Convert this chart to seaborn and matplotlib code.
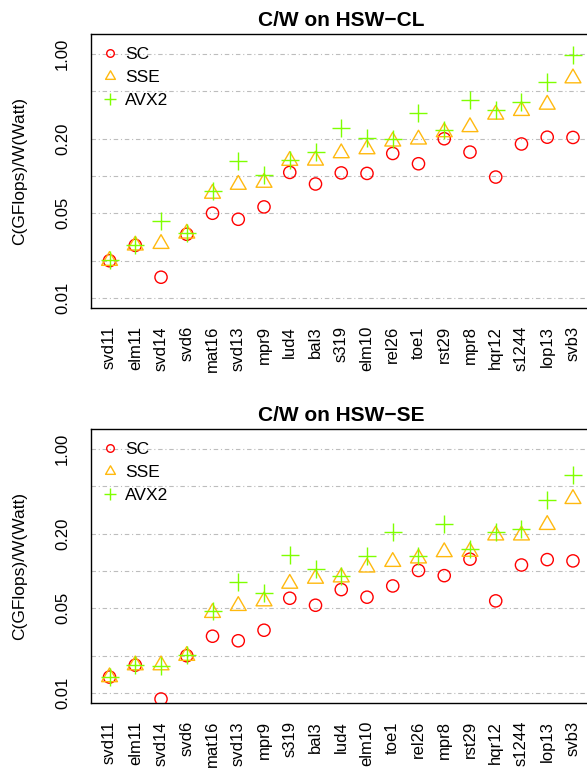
import numpy as np
import pandas as pd
import matplotlib
matplotlib.use("Agg")
import matplotlib.pyplot as plt
from matplotlib.path import Path
from matplotlib.lines import Line2D
from matplotlib.ticker import FixedLocator, NullLocator
import seaborn as sns

# ---- data -------------------------------------------------------------
series = ["SC", "SSE", "AVX2"]

cl_kernels = ["svd11", "elm11", "svd14", "svd6", "mat16", "svd13", "mpr9", "lud4",
              "bal3", "s319", "elm10", "rel26", "toe1", "rst29", "mpr8", "hqr12",
              "s1244", "lop13", "svb3"]
cl_sc = [0.0202, 0.0270, 0.0148, 0.0333, 0.0495, 0.0442, 0.0558, 0.107, 0.086,
         0.106, 0.105, 0.153, 0.126, 0.202, 0.157, 0.098, 0.183, 0.208, 0.207]
cl_sse = [0.0202, 0.0270, 0.0278, 0.0338, 0.0717, 0.0849, 0.0882, 0.1334, 0.134,
          0.154, 0.166, 0.192, 0.1995, 0.229, 0.252, 0.319, 0.342, 0.385, 0.633]
cl_avx2 = [0.0205, 0.0271, 0.0429, 0.0338, 0.0754, 0.132, 0.102, 0.136, 0.158,
           0.248, 0.205, 0.201, 0.330, 0.239, 0.423, 0.349, 0.403, 0.586, 0.98]

se_kernels = ["svd11", "elm11", "svd14", "svd6", "mat16", "svd13", "mpr9", "s319",
              "bal3", "lud4", "elm10", "toe1", "rel26", "mpr8", "rst29", "hqr12",
              "s1244", "lop13", "svb3"]
se_sc = [0.0135, 0.0169, 0.00893, 0.0202, 0.0292, 0.0268, 0.0327, 0.0598, 0.0524,
         0.0704, 0.061, 0.0754, 0.101, 0.0916, 0.125, 0.0569, 0.112, 0.124, 0.121]
se_sse = [0.0135, 0.0169, 0.0169, 0.0202, 0.0454, 0.0518, 0.0565, 0.0788, 0.0866,
          0.0888, 0.107, 0.119, 0.127, 0.143, 0.144, 0.196, 0.196, 0.239, 0.390]
se_avx2 = [0.0135, 0.0169, 0.0167, 0.0204, 0.0474, 0.0808, 0.0665, 0.134, 0.1045,
           0.0916, 0.1334, 0.207, 0.133, 0.244, 0.152, 0.207, 0.222, 0.385, 0.617]

y_ticks = [0.01, 0.02, 0.05, 0.1, 0.2, 0.5, 1.0]
y_ticklabels = ["0.01", "", "0.05", "", "0.20", "", "1.00"]

# ---- style ------------------------------------------------------------
sns.set_style("white")
plt.rcParams["font.family"] = ["Liberation Sans", "DejaVu Sans"]
plt.rcParams["axes.unicode_minus"] = True
plt.rcParams["text.color"] = "black"
plt.rcParams["axes.labelcolor"] = "black"
plt.rcParams["xtick.color"] = "black"
plt.rcParams["ytick.color"] = "black"

colors = {"SC": "#FF0000", "SSE": "#FFB90F", "AVX2": "#7FFF00"}

# R-style triangle: centred on its circumcentre rather than its bounding box
tri = Path([(0, 1.5551), (1.3468, -0.7776), (-1.3468, -0.7776), (0, 1.5551)],
           [Path.MOVETO, Path.LINETO, Path.LINETO, Path.CLOSEPOLY])
markers = {"SC": "o", "SSE": tri, "AVX2": "+"}
msize = {"SC": 8.8, "SSE": 13.2, "AVX2": 13.2}   # points
lw = 1.0
fs_tick = 12
fs_title = 15

fig = plt.figure(figsize=(5.87, 7.77), dpi=100)
W, H = 587.0, 777.0


def make_axes(top_px, bottom_px, left_px=91.0, right_px=591.5):
    return fig.add_axes([left_px / W, 1 - bottom_px / H,
                         (right_px - left_px) / W, (bottom_px - top_px) / H])


def panel(ax, kernels, values, title):
    idx = np.arange(len(kernels))
    for name in series:
        df = pd.DataFrame({"kernel": idx, "cw": values[name]})
        kw = dict(data=df, x="kernel", y="cw", ax=ax, marker=markers[name],
                  s=msize[name] ** 2, linewidth=lw, legend=False, zorder=3)
        if name == "AVX2":
            sns.scatterplot(color=colors[name], **kw)
        else:
            sns.scatterplot(facecolor="none", edgecolor=colors[name], **kw)

    ax.set_yscale("log")
    ax.set_ylim(10 ** -2.082, 10 ** 0.164)
    ax.set_xlim(-0.72, len(kernels) - 1 + 0.72)
    ax.yaxis.set_major_locator(FixedLocator(y_ticks))
    ax.yaxis.set_minor_locator(NullLocator())
    ax.set_yticklabels(y_ticklabels, rotation=90, va="center")
    ax.set_xticks(idx)
    ax.set_xticklabels(kernels, rotation=90, ha="center", va="top")
    ax.tick_params(axis="both", which="major", length=7, width=1.0,
                   pad=6, labelsize=fs_tick, color="black", labelcolor="black")
    ax.tick_params(axis="y", pad=8)

    ax.grid(axis="y", which="major", color="#bdbdbd", linewidth=0.8,
            linestyle=(0, (4, 2.5, 1, 2.5)), zorder=0)
    ax.set_axisbelow(True)
    for sp in ax.spines.values():
        sp.set_visible(True)
        sp.set_color("black")
        sp.set_linewidth(1.0)

    ax.set_xlabel("")
    ax.set_ylabel("C(GFlops)/W(Watt)", fontsize=12.5, va="center", color="black")
    ax.yaxis.set_label_coords(-0.142, 0.5)
    ax.set_title(title, fontsize=fs_title, fontweight="bold", pad=6, color="black")

    handles = [Line2D([], [], ls="none", marker=markers[n], markersize=msize[n],
                      markerfacecolor="none", markeredgecolor=colors[n],
                      markeredgewidth=lw, label=n) for n in series]
    leg = ax.legend(handles=handles, loc="upper left", frameon=False, fontsize=12.5,
                    markerscale=0.62, handlelength=0.7, handletextpad=0.5,
                    labelspacing=0.44, borderaxespad=0.2, borderpad=0.55)
    for t in leg.get_texts():
        t.set_color("black")


ax1 = make_axes(34, 308)
panel(ax1, cl_kernels, {"SC": cl_sc, "SSE": cl_sse, "AVX2": cl_avx2},
      "C/W on HSW\u2212CL")

ax2 = make_axes(429, 703)
panel(ax2, se_kernels, {"SC": se_sc, "SSE": se_sse, "AVX2": se_avx2},
      "C/W on HSW\u2212SE")

fig.savefig("out.png", dpi=100, facecolor="white")
